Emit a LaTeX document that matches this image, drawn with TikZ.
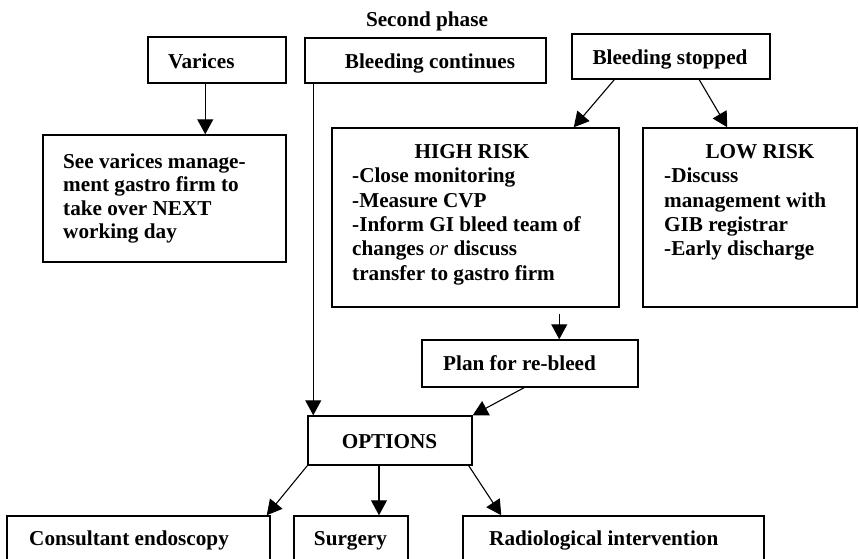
\documentclass[tikz,border=0pt]{standalone}
\usepackage{fontspec}
\setmainfont{Liberation Serif}
\usetikzlibrary{arrows.meta,calc,fit}
\begin{document}
\begin{tikzpicture}[x=1pt,y=-1pt,
  box/.style={draw, line width=1.5pt, inner sep=0pt},
  txt/.style={font=\fontsize{21.2}{24.4}\selectfont\bfseries, inner sep=0pt},
  para/.style={txt, align=left, anchor=north west},
  conn/.style={line width=1.1pt, -{Triangle[length=15pt,width=16pt]}}]
\useasboundingbox (0,0) rectangle (859,558);
\clip (0,0) rectangle (859,558);
\fill[white] (0,0) rectangle (859,558);

% boxes
\node[box, fit={(148,37) (286,83)}] (varices) {};
\node[box, fit={(43,135) (286,262)}] (see) {};
\node[box, fit={(305,38) (546,83)}] (cont) {};
\node[box, fit={(572,34) (770,79)}] (stopped) {};
\node[box, fit={(332,128) (619,307)}] (high) {};
\node[box, fit={(643,128) (857,307)}] (low) {};
\node[box, fit={(422,340) (638,387)}] (plan) {};
\node[box, fit={(308,416) (472,465)}] (options) {};
\node[box, fit={(7,516) (270,566)}] (cons) {};
\node[box, fit={(294,516) (408,566)}] (surg) {};
\node[box, fit={(463,516) (764,566)}] (radio) {};

% texts
\node[txt, anchor=base] (phase) at (427,26) {Second phase};
\node[txt, anchor=base west] (variceslbl) at (168,68.3) {Varices};
\node[para, font=\fontsize{21.2}{23.3}\selectfont\bfseries] (seelbl) at (63,152) {\strut See varices manage-\\ment gastro firm to\\take over NEXT\\working day};
\node[txt, anchor=base] (contlbl) at (430,68) {Bleeding continues};
\node[txt, anchor=base] (stoppedlbl) at (670,64) {Bleeding stopped};
\node[txt, anchor=base] (hightitle) at (472,158) {HIGH RISK};
\node[para] (highlbl) at (352,165.5) {\strut-Close monitoring\\-Measure CVP\\-Inform GI bleed team of\\changes \textmd{\textit{or}} discuss\\transfer to gastro firm};
\node[txt, anchor=base] (lowtitle) at (760,158) {LOW RISK};
\node[para] (lowlbl) at (664,165.5) {\strut-Discuss\\management with\\GIB registrar\\-Early discharge};
\node[txt, anchor=base west] (planlbl) at (443,370) {Plan for re-bleed};
\node[txt, anchor=base] (optionslbl) at (389.5,448) {OPTIONS};
\node[txt, anchor=base west] (conslbl) at (29,545) {Consultant endoscopy};
\node[txt, anchor=base] (surglbl) at (350.5,545) {Surgery};
\node[txt, anchor=base west] (radiolbl) at (489,545) {Radiological intervention};

% connectors
\draw[conn] ([xshift=58pt]varices.south west) -- ([xshift=58pt]varices.south west |- see.north);
\draw[conn] ([xshift=9pt]cont.south west) -- ([xshift=9pt]cont.south west |- options.north);
\draw[conn] ([xshift=43pt]stopped.south west) -- ([xshift=-46pt]high.north east);
\draw[conn] ([xshift=128pt]stopped.south west) -- ([xshift=85pt]low.north west);
\draw[conn] ($(high.south -| plan.north west)+(138,6)$) -- ([xshift=138pt]plan.north west);
\draw[conn] ([xshift=-6pt]plan.south) -- (options.north east);
\draw[conn] (options.south west) -- ([xshift=-4pt]cons.north east);
\draw[conn] ([xshift=-11pt]options.south) -- ([xshift=-11pt]options.south |- surg.north);
\draw[conn] ([xshift=-4pt]options.south east) -- ([xshift=39pt]radio.north west);
\end{tikzpicture}
\end{document}
